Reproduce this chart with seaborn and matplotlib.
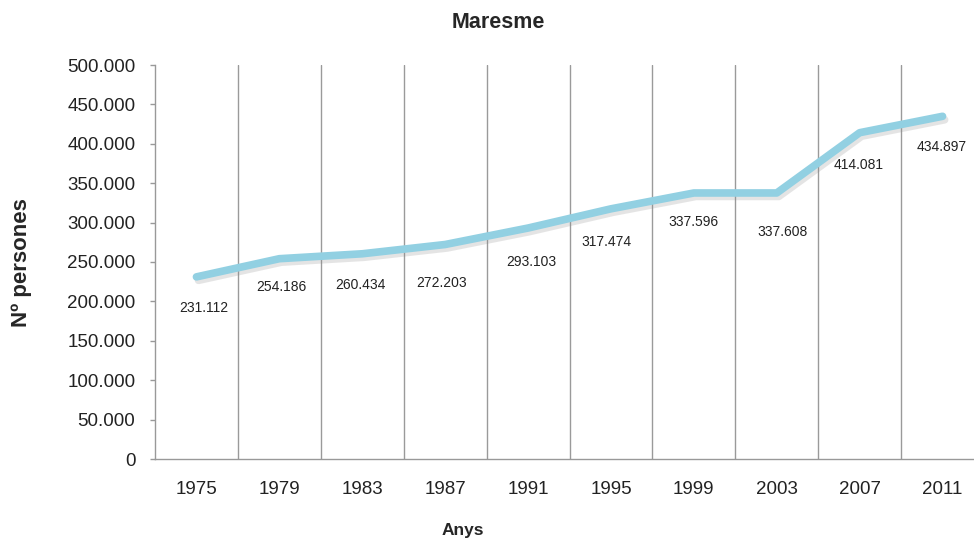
import pandas as pd
import seaborn as sns
import matplotlib
matplotlib.use("Agg")
import matplotlib.pyplot as plt
from matplotlib import patheffects as pe

# data
anys = ['1975', '1979', '1983', '1987', '1991', '1995', '1999', '2003', '2007', '2011']
persones = [231112, 254186, 260434, 272203, 293103, 317474, 337596, 337608, 414081, 434897]
y_ticks = [0, 50000, 100000, 150000, 200000, 250000, 300000, 350000, 400000, 450000, 500000]

# label nudges in pixels (dx, dy below the point)
label_dx = [7, 2, -2, -4, 3, -4, 0, 6, -1, -1]
label_dy = [31, 28, 31, 38, 34, 33, 29, 39, 32, 31]


def fmt(v):
    return f"{v:,}".replace(",", ".")


df = pd.DataFrame({'Anys': anys, 'Persones': persones})

sns.set_style("white")
plt.rcParams['font.family'] = ['Liberation Sans', 'DejaVu Sans']

fig = plt.figure(figsize=(9.74, 5.4), dpi=100)
ax = fig.add_axes([155 / 974, 81 / 540, 829 / 974, 394 / 540])

sns.lineplot(data=df, x='Anys', y='Persones', ax=ax, color='#92d0e2',
             linewidth=5.5, solid_joinstyle='round', solid_capstyle='round', zorder=3)
line = ax.lines[0]
line.set_path_effects([pe.SimpleLineShadow(offset=(1.5, -2.5), shadow_color='#888888', alpha=0.22),
                       pe.Normal()])

for i, v in enumerate(persones):
    ax.annotate(fmt(v), (i, v), xytext=(label_dx[i], -label_dy[i]), textcoords='offset pixels',
                ha='center', va='center', fontsize=10, color='#222222', zorder=4)

ax.set_xlim(-0.5, 9.5)
ax.set_ylim(0, 500000)
ax.set_yticks(y_ticks)
ax.set_yticklabels([fmt(t) for t in y_ticks])
ax.set_xticks(range(len(anys)))
ax.set_xticklabels(anys)
ax.set_xticks([i + 0.5 for i in range(len(anys) - 1)], minor=True)

ax.tick_params(axis='x', which='major', length=0, pad=16, labelsize=13.5, labelcolor='#222222')
ax.tick_params(axis='x', which='minor', length=3.6, width=1, color='#999999', direction='out')
ax.tick_params(axis='y', length=3.6, width=1, color='#999999', pad=10.5, labelsize=13.5,
               labelcolor='#222222', left=True)
ax.grid(False)
ax.xaxis.grid(True, which='minor', color='#9a9a9a', linewidth=1)

for s in ['top', 'right']:
    ax.spines[s].set_visible(False)
for s in ['left', 'bottom']:
    ax.spines[s].set_color('#999999')
    ax.spines[s].set_linewidth(1)

ax.set_xlabel('')
ax.set_ylabel('')
fig.text(498 / 974, 1 - 22 / 540, 'Maresme', ha='center', va='center', fontsize=15.5, fontweight='bold')
fig.text(22 / 974, 1 - 263 / 540, 'Nº persones', ha='center', va='center', rotation=90,
         fontsize=16, fontweight='bold')
fig.text(463 / 974, 1 - 531 / 540, 'Anys', ha='center', va='center', fontsize=12.5, fontweight='bold')

fig.savefig('out.png', dpi=100)
